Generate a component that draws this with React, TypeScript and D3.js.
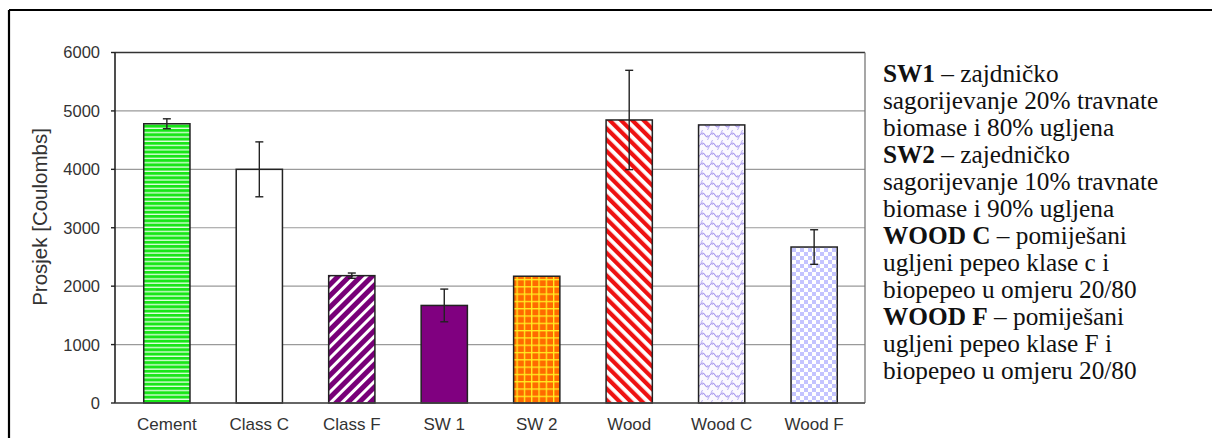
import React from "react";
import * as d3 from "d3";

const categories = ["Cement", "Class C", "Class F", "SW 1", "SW 2", "Wood", "Wood C", "Wood F"];
const means = [4780, 4000, 2180, 1670, 2170, 4845, 4760, 2670];
const errors = [85, 470, 45, 280, 0, 850, 0, 296];
const fills = ["url(#pCement)", "#ffffff", "url(#pClassF)", "#800080", "url(#pSW2)", "url(#pWood)", "url(#pWoodC)", "url(#pWoodF)"];
const yTicks = [0, 1000, 2000, 3000, 4000, 5000, 6000];
const yTitle = "Prosjek [Coulombs]";
const legendLines: [string, string][] = [
  ["SW1", " – zajdničko"],
  ["", "sagorijevanje 20% travnate"],
  ["", "biomase i 80% ugljena"],
  ["SW2", " – zajedničko"],
  ["", "sagorijevanje 10% travnate"],
  ["", "biomase i 90% ugljena"],
  ["WOOD C", " – pomiješani"],
  ["", "ugljeni pepeo klase c i"],
  ["", "biopepeo u omjeru 20/80"],
  ["WOOD F", " – pomiješani"],
  ["", "ugljeni pepeo klase F i"],
  ["", "biopepeo u omjeru 20/80"],
];

const W = 1212;
const H = 438;
const plot = { left: 115, right: 865, top: 52.5, bottom: 403 };

export default function App() {
  const x = d3
    .scaleBand<string>()
    .domain(categories)
    .range([plot.left + 1, plot.right])
    .paddingInner(0.5)
    .paddingOuter(0.3);
  const y = d3.scaleLinear().domain([0, 6000]).range([plot.bottom, plot.top]);
  const bw = x.bandwidth();
  const sans = "'Liberation Sans', Arial, sans-serif";
  const serif = "'Liberation Serif', 'Times New Roman', serif";

  return (
    <svg
      width={W}
      height={H}
      style={{ position: "absolute", left: 0, top: 0, display: "block", background: "#fff" }}
    >
      <defs>
        <pattern id="pCement" width={8} height={4.3} patternUnits="userSpaceOnUse">
          <rect width={8} height={4.3} fill="#18e618" />
          <rect y={3} width={8} height={1.3} fill="#e4ffe4" />
        </pattern>
        <pattern id="pClassF" width={8} height={8} patternUnits="userSpaceOnUse" patternTransform="rotate(45)">
          <rect width={8} height={8} fill="#780078" />
          <rect x={5} width={3} height={8} fill="#ffffff" />
        </pattern>
        <pattern id="pWood" width={8} height={8} patternUnits="userSpaceOnUse" patternTransform="rotate(-45)">
          <rect width={8} height={8} fill="#ffffff" />
          <rect x={0} width={4.2} height={8} fill="#ee1111" />
        </pattern>
        <pattern id="pSW2" width={7.3} height={7.3} patternUnits="userSpaceOnUse" x={plot.left} y={plot.bottom}>
          <rect width={7.3} height={7.3} fill="#ff6a00" />
          <rect x={0} width={1.3} height={7.3} fill="#ffee22" />
          <rect y={0} width={7.3} height={1.3} fill="#ffee22" />
        </pattern>
        <pattern id="pWoodF" width={8} height={8} patternUnits="userSpaceOnUse">
          <rect width={8} height={8} fill="#ffffff" />
          <rect width={4} height={4} fill="#c4c4ff" />
          <rect x={4} y={4} width={4} height={4} fill="#c4c4ff" />
        </pattern>
        <pattern id="pWoodC" width={10} height={10} patternUnits="userSpaceOnUse">
          <rect width={10} height={10} fill="#fbf8ff" />
          <path d="M0,5 Q2.5,1 5,5 T10,5" fill="none" stroke="#a898ee" strokeWidth={1.1} />
          <path d="M2.5,0 Q0,2.5 2.5,5" fill="none" stroke="#b8acf2" strokeWidth={1} />
          <path d="M7.5,5 Q10,7.5 7.5,10" fill="none" stroke="#b8acf2" strokeWidth={1} />
        </pattern>
      </defs>

      {/* outer frame */}
      <line x1={9} y1={10} x2={W} y2={10} stroke="#000" strokeWidth={2.2} />
      <line x1={9} y1={10} x2={9} y2={H} stroke="#000" strokeWidth={2.2} />

      {/* gridlines */}
      {yTicks.map((t) => (
        <line
          key={"g" + t}
          x1={plot.left}
          x2={plot.right}
          y1={y(t)}
          y2={y(t)}
          stroke={t === 6000 ? "#333" : "#9a9a9a"}
          strokeWidth={t === 6000 ? 1.6 : 1.2}
        />
      ))}
      {/* right border */}
      <line x1={plot.right} x2={plot.right} y1={plot.top} y2={plot.bottom} stroke="#777" strokeWidth={1.3} />

      {/* bars */}
      {categories.map((c, i) => (
        <rect
          key={c}
          x={x(c)}
          y={y(means[i])}
          width={bw}
          height={y(0) - y(means[i])}
          fill={fills[i]}
          stroke="#222"
          strokeWidth={1.5}
        />
      ))}

      {/* error bars */}
      {categories.map((c, i) => {
        if (!errors[i]) return null;
        const cx = (x(c) as number) + bw / 2;
        const y1 = y(means[i] + errors[i]);
        const y2 = y(means[i] - errors[i]);
        return (
          <g key={"e" + c} stroke="#222" strokeWidth={1.4}>
            <line x1={cx} x2={cx} y1={y1} y2={y2} />
            <line x1={cx - 4} x2={cx + 4} y1={y1} y2={y1} />
            <line x1={cx - 4} x2={cx + 4} y1={y2} y2={y2} />
          </g>
        );
      })}

      {/* axes */}
      <line x1={plot.left} x2={plot.left} y1={plot.top} y2={plot.bottom} stroke="#222" strokeWidth={1.6} />
      <line x1={plot.left} x2={plot.right} y1={plot.bottom} y2={plot.bottom} stroke="#444" strokeWidth={1.6} />
      {yTicks.map((t) => (
        <g key={"t" + t}>
          <line x1={plot.left - 4} x2={plot.left} y1={y(t)} y2={y(t)} stroke="#222" strokeWidth={1.4} />
          <text
            x={100}
            y={y(t)}
            dy="0.36em"
            textAnchor="end"
            fontFamily={sans}
            fontSize={16.5}
            fill="#333"
          >
            {t}
          </text>
        </g>
      ))}
      {categories.map((c) => (
        <text
          key={"x" + c}
          x={(x(c) as number) + bw / 2}
          y={430}
          textAnchor="middle"
          fontFamily={sans}
          fontSize={17}
          fill="#333"
        >
          {c}
        </text>
      ))}
      <text
        transform={`translate(47,217) rotate(-90)`}
        textAnchor="middle"
        fontFamily={sans}
        fontSize={20.5}
        fill="#333"
      >
        {yTitle}
      </text>

      {/* legend text */}
      {legendLines.map(([b, r], i) => (
        <text key={"l" + i} x={883} y={82 + i * 27} fontFamily={serif} fontSize={25.3} fill="#111">
          {b ? <tspan fontWeight="bold">{b}</tspan> : null}
          <tspan>{r}</tspan>
        </text>
      ))}
    </svg>
  );
}
